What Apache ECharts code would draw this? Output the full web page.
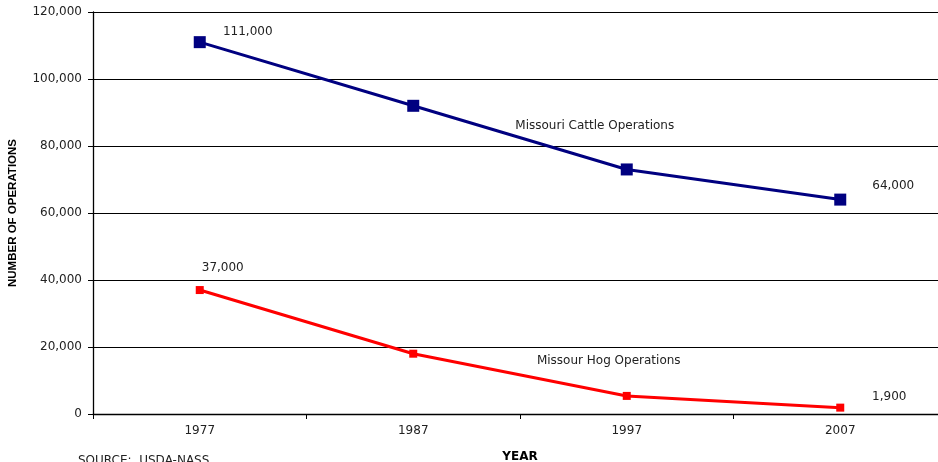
<!DOCTYPE html>
<html>
<head>
<meta charset="utf-8">
<script src="https://cdn.jsdelivr.net/npm/echarts@6/dist/echarts.min.js"></script>
<style>
  html, body { margin: 0; padding: 0; background: #fff; }
  #chart { width: 938px; height: 462px; }
</style>
</head>
<body>
<div id="chart"></div>
<script>
// Missouri livestock operations by census year
const years = ['1977', '1987', '1997', '2007'];
const cattleOps = [111000, 92000, 73000, 64000];
const hogOps = [37000, 18000, 5400, 1900];
const yTicks = [0, 20000, 40000, 60000, 80000, 100000, 120000];

const FONT = '"DejaVu Sans", "Liberation Sans", Arial, sans-serif';
const fmt = v => v.toLocaleString('en-US');

// value labels on the first and last points of each line, offset from the marker centre
function labelled(values, offsets) {
  return values.map((v, i) => {
    const o = offsets[i];
    if (!o) return v;
    return {
      value: v,
      label: {
        show: true, position: 'inside', offset: o,
        formatter: p => fmt(p.value),
        fontFamily: FONT, fontSize: 12, color: '#222'
      }
    };
  });
}

// free-standing series caption anchored in data space
function caption(text, coord, offset) {
  return {
    symbol: 'circle', symbolSize: 0, silent: true,
    data: [{
      coord: coord, value: 0,
      label: { show: true, formatter: text, position: 'inside', offset: offset, fontFamily: FONT, fontSize: 12, color: '#222' }
    }]
  };
}

const chart = echarts.init(document.getElementById('chart'));
chart.setOption({
  animation: false,
  grid: { left: 93, top: 12, width: 854, height: 402, outerBoundsMode: 'none', containLabel: false },
  xAxis: {
    type: 'category',
    data: years,
    boundaryGap: true,
    axisLine: { lineStyle: { color: '#000', width: 1.3 } },
    axisTick: { show: true, length: 5, lineStyle: { color: '#000' } },
    axisLabel: { fontFamily: FONT, fontSize: 12, color: '#222', margin: 11 },
    name: 'YEAR',
    nameLocation: 'middle',
    nameGap: 37,
    nameTextStyle: { fontFamily: FONT, fontSize: 12, fontWeight: 'bold', color: '#000' }
  },
  yAxis: {
    type: 'value',
    min: yTicks[0],
    max: yTicks[yTicks.length - 1],
    interval: 20000,
    axisLine: { show: true, lineStyle: { color: '#000', width: 1.3 } },
    axisTick: { show: true, length: 5, lineStyle: { color: '#000' } },
    axisLabel: { fontFamily: FONT, fontSize: 12, color: '#222', margin: 11, formatter: v => fmt(v) },
    splitLine: { show: true, lineStyle: { color: '#000', width: 1 } },
    name: 'NUMBER OF OPERATIONS',
    nameLocation: 'middle',
    nameGap: 74,
    nameTextStyle: { fontFamily: '"Liberation Sans", Arial, sans-serif', fontSize: 11.5, fontWeight: 'bold', color: '#000', letterSpacing: -0.9 }
  },
  series: [
    {
      name: 'Missouri Cattle Operations',
      type: 'line',
      data: labelled(cattleOps, [[48, -10], null, null, [53, -14]]),
      symbol: 'rect',
      symbolSize: 12,
      lineStyle: { color: '#000080', width: 3 },
      itemStyle: { color: '#000080' },
      markPoint: caption('Missouri Cattle Operations', ['1997', 86000], [-32, 0])
    },
    {
      name: 'Missour Hog Operations',
      type: 'line',
      data: labelled(hogOps, [[23, -22], null, null, [49, -11]]),
      symbol: 'rect',
      symbolSize: 8,
      lineStyle: { color: '#ff0000', width: 3 },
      itemStyle: { color: '#ff0000' },
      markPoint: caption('Missour Hog Operations', ['1997', 15800], [-18, 0])
    }
  ],
  graphic: [{
    type: 'text', left: 78, top: 455,
    style: { text: 'SOURCE:  USDA-NASS', fontFamily: FONT, fontSize: 12, fill: '#222' }
  }]
});
</script>
</body>
</html>
